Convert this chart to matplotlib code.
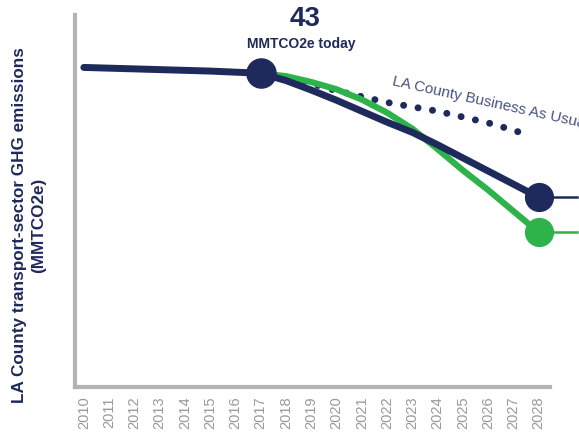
import matplotlib
matplotlib.use("Agg")
import matplotlib.pyplot as plt

plt.rcParams['font.family'] = ['Liberation Sans', 'DejaVu Sans']

# data (MMTCO2e)
years = [2010, 2011, 2012, 2013, 2014, 2015, 2016, 2017, 2018, 2019, 2020, 2021, 2022, 2023, 2024, 2025, 2026, 2027, 2028]
navy_vals = [43.8, 43.7, 43.6, 43.5, 43.4, 43.3, 43.15, 43.0, 42.0, 40.7, 39.3, 37.8, 36.3, 34.9, 33.2, 31.4, 29.6, 27.8, 26.0]
green_years = [2017, 2018, 2019, 2020, 2021, 2022, 2023, 2024, 2025, 2026, 2027, 2028]
green_vals = [43.0, 42.6, 41.8, 40.8, 39.4, 37.6, 35.4, 32.6, 29.7, 27.0, 24.1, 21.2]
bau_years = [2017, 2018, 2019, 2020, 2021, 2022, 2023, 2024, 2025, 2026, 2027, 2027.5]
bau_vals = [43.0, 42.4, 41.6, 40.6, 39.8, 39.0, 38.4, 37.8, 37.0, 36.2, 35.2, 34.6]
today_year, today_val = 2017, 43

navy = "#1f2a5c"
green = "#2db34a"
grey = "#b3b3b3"

fig = plt.figure(figsize=(5.79, 4.38), dpi=100)
ax = fig.add_axes([0.1295, 0.1164, 0.8205, 0.8496])

ax.plot(bau_years, bau_vals, color=navy, lw=5, linestyle=(0, (0.01, 2.1)),
        dash_capstyle="round", solid_capstyle="round", zorder=2)
ax.plot(green_years, green_vals, color=green, lw=4.5, solid_capstyle="round", zorder=3)
ax.plot(years, navy_vals, color=navy, lw=5, solid_capstyle="round", zorder=4)

# thin lines out to the right edge
ax.plot([2028, 2029.5], [navy_vals[-1]] * 2, color=navy, lw=1.8, clip_on=False, zorder=4)
ax.plot([2028, 2029.5], [green_vals[-1]] * 2, color=green, lw=1.8, clip_on=False, zorder=3)

ax.plot([today_year], [today_val], "o", color=navy, ms=21, zorder=5, clip_on=False)
ax.plot([2028], [navy_vals[-1]], "o", color=navy, ms=20, zorder=6, clip_on=False)
ax.plot([2028], [green_vals[-1]], "o", color=green, ms=20, zorder=5, clip_on=False)

ax.text(2018.75, 50.5, str(today_val), color=navy, fontsize=20, fontweight="bold",
        ha="center", va="center")
ax.text(2018.6, 47.0, "MMTCO2e today", color=navy, fontsize=10, fontweight="bold",
        ha="center", va="center")
ax.text(2022.15, 41.0, "LA County Business As Usual", color="#4a5280", fontsize=11,
        rotation=-12.5, rotation_mode="anchor", ha="left", va="bottom", clip_on=False)

ax.set_xlim(2009.65, 2028.45)
ax.set_ylim(0, 51)
ax.set_xticks(years)
ax.set_xticklabels([str(y) for y in years], rotation=90, color="#999999", fontsize=10.5)
ax.tick_params(axis="x", length=0, pad=7)
ax.set_yticks([])
for s in ["top", "right"]:
    ax.spines[s].set_visible(False)
for s in ["left", "bottom"]:
    ax.spines[s].set_color(grey)
    ax.spines[s].set_linewidth(3)

fig.text(0.050, 0.486, "LA County transport-sector GHG emissions\n(MMTCO2e)", rotation=90,
         color=navy, fontsize=12.3, fontweight="bold", ha="center", va="center",
         multialignment="center", linespacing=1.3)

fig.savefig("out.png", dpi=100)
